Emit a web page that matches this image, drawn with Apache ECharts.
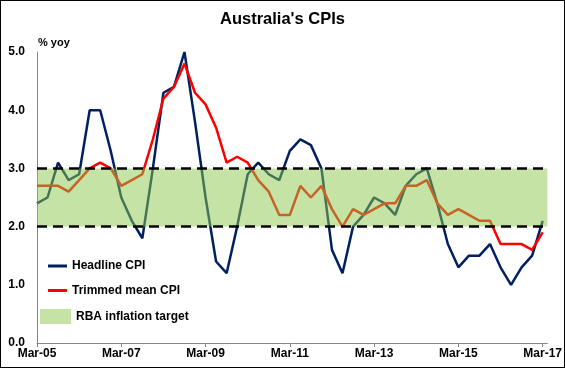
<!DOCTYPE html>
<html>
<head>
<meta charset="utf-8">
<script src="https://cdn.jsdelivr.net/npm/echarts@6/dist/echarts.min.js"></script>
<style>
html,body{margin:0;padding:0;background:#fff;}
#wrap{position:relative;width:565px;height:368px;}
#chart{position:absolute;left:0;top:0;width:565px;height:368px;}
#frame{position:absolute;left:0;top:0;width:565px;height:368px;box-sizing:border-box;border:1.5px solid #000;pointer-events:none;}
</style>
</head>
<body>
<div id="wrap"><div id="chart"></div><div id="frame"></div></div>
<script>
const categories = [
  'Mar-05','Jun-05','Sep-05','Dec-05','Mar-06','Jun-06','Sep-06','Dec-06',
  'Mar-07','Jun-07','Sep-07','Dec-07','Mar-08','Jun-08','Sep-08','Dec-08',
  'Mar-09','Jun-09','Sep-09','Dec-09','Mar-10','Jun-10','Sep-10','Dec-10',
  'Mar-11','Jun-11','Sep-11','Dec-11','Mar-12','Jun-12','Sep-12','Dec-12',
  'Mar-13','Jun-13','Sep-13','Dec-13','Mar-14','Jun-14','Sep-14','Dec-14',
  'Mar-15','Jun-15','Sep-15','Dec-15','Mar-16','Jun-16','Sep-16','Dec-16',
  'Mar-17'
];
const headlineCPI = [
  2.4, 2.5, 3.1, 2.8, 2.9, 4.0, 4.0, 3.3,
  2.5, 2.1, 1.8, 3.0, 4.3, 4.4, 5.0, 3.8,
  2.5, 1.4, 1.2, 2.0, 2.9, 3.1, 2.9, 2.8,
  3.3, 3.5, 3.4, 3.0, 1.6, 1.2, 2.0, 2.2,
  2.5, 2.4, 2.2, 2.7, 2.9, 3.0, 2.4, 1.7,
  1.3, 1.5, 1.5, 1.7, 1.3, 1.0, 1.3, 1.5,
  2.1
];
const trimmedMeanCPI = [
  2.7, 2.7, 2.7, 2.6, 2.8, 3.0, 3.1, 3.0,
  2.7, 2.8, 2.9, 3.5, 4.2, 4.4, 4.8, 4.3,
  4.1, 3.7, 3.1, 3.2, 3.1, 2.8, 2.6, 2.2,
  2.2, 2.7, 2.5, 2.7, 2.3, 2.0, 2.3, 2.2,
  2.3, 2.4, 2.4, 2.7, 2.7, 2.8, 2.4, 2.2,
  2.3, 2.2, 2.1, 2.1, 1.7, 1.7, 1.7, 1.6,
  1.9
];
const targetLow = 2.0;
const targetHigh = 3.0;
const xTickLabels = ['Mar-05','Mar-07','Mar-09','Mar-11','Mar-13','Mar-15','Mar-17'];
const yTickLabels = ['0.0','1.0','2.0','3.0','4.0','5.0'];

const FONT = 'Liberation Sans';
const BAND = 'rgba(139,199,75,0.5)';
const xTickValues = xTickLabels.map(l => categories.indexOf(l));

const chart = echarts.init(document.getElementById('chart'), null, {renderer: 'canvas'});
chart.setOption({
  animation: false,
  backgroundColor: '#fff',
  title: {
    text: "Australia's CPIs",
    left: 'center',
    top: 6,
    textStyle: {fontFamily: FONT, fontWeight: 'bold', fontSize: 16.5, color: '#000'}
  },
  legend: [
    {
      left: 48, top: 259, orient: 'vertical', padding: 0,
      itemWidth: 19, itemHeight: 3, itemGap: 10.5,
      data: [{name: 'Headline CPI', icon: 'rect'}, {name: 'Trimmed mean CPI', icon: 'rect'}],
      textStyle: {fontFamily: FONT, fontWeight: 'bold', fontSize: 12, color: '#000', lineHeight: 14}
    },
    {
      left: 40, top: 309, orient: 'vertical', padding: 0,
      itemWidth: 31, itemHeight: 15,
      data: [{name: 'RBA inflation target', icon: 'rect'}],
      textStyle: {fontFamily: FONT, fontWeight: 'bold', fontSize: 12, color: '#000'}
    }
  ],
  grid: {left: 37, right: 13, top: 52, bottom: 25, containLabel: false},
  xAxis: {
    type: 'value',
    min: 0,
    max: 48.45,
    splitLine: {show: false},
    axisLine: {show: true, lineStyle: {color: '#868686', width: 1}},
    axisTick: {show: true, length: 4, inside: false, customValues: xTickValues, lineStyle: {color: '#868686'}},
    axisLabel: {
      customValues: xTickValues,
      formatter: v => categories[Math.round(v)] || '',
      fontFamily: FONT, fontWeight: 'bold', fontSize: 12, color: '#000', margin: 5
    }
  },
  yAxis: {
    type: 'value',
    min: 0, max: 5, interval: 1,
    name: '% yoy',
    nameLocation: 'end',
    nameGap: 4,
    nameTextStyle: {fontFamily: FONT, fontWeight: 'bold', fontSize: 11, color: '#000', align: 'left', verticalAlign: 'bottom', padding: [0, 0, 0, 1]},
    splitLine: {show: false},
    axisLine: {show: true, lineStyle: {color: '#868686', width: 1}},
    axisTick: {show: false},
    axisLabel: {
      formatter: v => yTickLabels[Math.round(v)],
      fontFamily: FONT, fontWeight: 'bold', fontSize: 12, color: '#000', margin: 12
    }
  },
  series: [
    {
      name: 'Headline CPI',
      type: 'line',
      data: headlineCPI.map((v, i) => [i, v]),
      symbol: 'none',
      z: 2,
      color: '#002060',
      itemStyle: {color: '#002060'},
      lineStyle: {color: '#002060', width: 2.5}
    },
    {
      name: 'Trimmed mean CPI',
      type: 'line',
      data: trimmedMeanCPI.map((v, i) => [i, v]),
      symbol: 'none',
      z: 3,
      color: '#ff0000',
      itemStyle: {color: '#ff0000'},
      lineStyle: {color: '#ff0000', width: 2.5}
    },
    {
      name: 'RBA inflation target',
      type: 'custom',
      z: 5,
      clip: false,
      silent: true,
      itemStyle: {color: BAND},
      data: [[targetLow, targetHigh]],
      renderItem: function (params, api) {
        const cs = params.coordSys;
        const yHi = api.coord([0, api.value(1)])[1];
        const yLo = api.coord([0, api.value(0)])[1];
        const dash = {stroke: '#000', lineWidth: 2.5, lineDash: [10, 6], fill: null};
        return {
          type: 'group',
          children: [
            {type: 'rect', shape: {x: cs.x, y: yHi, width: cs.width, height: yLo - yHi}, style: {fill: BAND}},
            {type: 'line', shape: {x1: cs.x, y1: yHi, x2: cs.x + cs.width, y2: yHi}, style: dash},
            {type: 'line', shape: {x1: cs.x, y1: yLo, x2: cs.x + cs.width, y2: yLo}, style: dash}
          ]
        };
      }
    }
  ]
});
</script>
</body>
</html>
